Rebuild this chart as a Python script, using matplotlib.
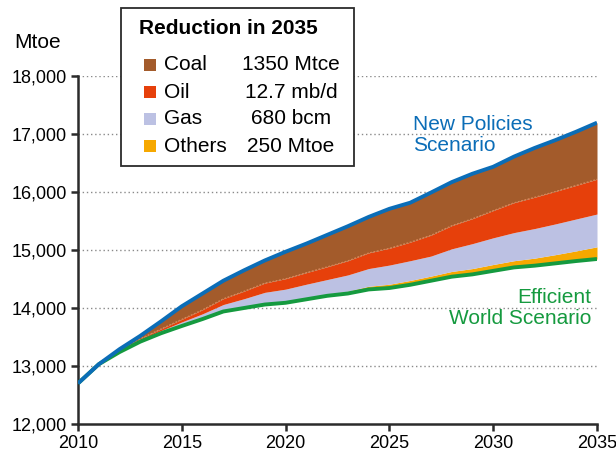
import numpy as np
import matplotlib
matplotlib.use("Agg")
import matplotlib.pyplot as plt
from matplotlib.patches import Rectangle

plt.rcParams["font.family"] = ["Liberation Sans", "DejaVu Sans"]

# ── Données (Mtoe) ───────────────────────────────────────────────────────────
YEARS = list(range(2010, 2036))

NEW_POLICIES = [12700, 13030, 13290, 13520, 13770, 14030, 14250, 14470, 14650, 14820,
                14970, 15110, 15260, 15410, 15570, 15710, 15815, 15990, 16170, 16315,
                16435, 16610, 16760, 16895, 17040, 17195]
EFFICIENT_WORLD = [12700, 13030, 13240, 13420, 13565, 13690, 13810, 13940, 14000, 14060,
                   14090, 14150, 14210, 14250, 14320, 14345, 14400, 14470, 14540, 14580,
                   14640, 14700, 14730, 14770, 14810, 14845]

# réductions empilées au-dessus du scénario Efficient World (coal = le reste)
OTHERS_RED = [0, 0, 5, 10, 10, 15, 15, 20, 20, 25, 25, 30, 30, 40, 55, 65,
              75, 80, 90, 100, 110, 115, 130, 150, 175, 210]
GAS_RED = [0, 0, 10, 20, 35, 55, 75, 100, 140, 185, 210, 230, 250, 280, 305, 330,
           340, 345, 390, 430, 460, 485, 510, 530, 550, 565]
OIL_RED = [0, 0, 10, 20, 30, 45, 70, 100, 130, 160, 180, 200, 220, 245, 270, 290,
           320, 360, 400, 430, 470, 515, 540, 560, 580, 600]

LEGEND_TITLE = "Reduction in 2035"
FUELS = ["Coal", "Oil", "Gas", "Others"]
FUEL_AMOUNTS = ["1350 Mtce", "12.7 mb/d", "680 bcm", "250 Mtoe"]
FUEL_COLORS = {"Coal": "#a35b2b", "Oil": "#e6400b", "Gas": "#bcc1e3", "Others": "#f6a800"}

BLUE = "#0b6db7"
GREEN = "#159a3f"
AXIS_COLOR = "#2b2b2b"

Y_TICKS = list(range(12000, 18001, 1000))
X_TICKS = [2010, 2015, 2020, 2025, 2030, 2035]

# ── Figure ───────────────────────────────────────────────────────────────────
W, H = 616, 458
fig = plt.figure(figsize=(W / 100, H / 100), dpi=100)
ax = fig.add_axes([78 / W, 1 - 424 / H, (597 - 78) / W, (424 - 76) / H])

years = np.array(YEARS)
ews = np.array(EFFICIENT_WORLD, dtype=float)
nps = np.array(NEW_POLICIES, dtype=float)
others = np.array(OTHERS_RED, dtype=float)
gas = np.array(GAS_RED, dtype=float)
oil = np.array(OIL_RED, dtype=float)

b_others = ews + others
b_gas = b_others + gas
b_oil = b_gas + oil

ax.fill_between(years, ews, b_others, color=FUEL_COLORS["Others"], lw=0, zorder=2)
ax.fill_between(years, b_others, b_gas, color=FUEL_COLORS["Gas"], lw=0, zorder=2)
ax.fill_between(years, b_gas, b_oil, color=FUEL_COLORS["Oil"], lw=0, zorder=2)
ax.fill_between(years, b_oil, nps, color=FUEL_COLORS["Coal"], lw=0, zorder=2)
ax.plot(years, b_oil, color="#e08a5a", lw=0.7, ls=(0, (2, 1.5)), zorder=3)

ax.plot(years, ews, color=GREEN, lw=2.8, solid_capstyle="butt", zorder=4)
ax.plot(years, nps, color=BLUE, lw=2.8, solid_capstyle="butt", zorder=5)

for y in Y_TICKS[1:]:
    ax.axhline(y, color="#8a8a8a", lw=1.0, ls=(0, (1, 2)), zorder=1)

ax.set_xlim(2010, 2035)
ax.set_ylim(12000, 18000)
ax.set_xticks(X_TICKS)
ax.set_yticks(Y_TICKS)
ax.set_yticklabels([f"{v:,}" for v in Y_TICKS])
for side in ["top", "right"]:
    ax.spines[side].set_visible(False)
for side in ["left", "bottom"]:
    ax.spines[side].set_color(AXIS_COLOR)
    ax.spines[side].set_linewidth(1.8)
ax.tick_params(direction="out", length=5, width=1.8, color=AXIS_COLOR,
               labelsize=13, labelcolor="black", pad=3)

fig.text(14 / W, 1 - 42 / H, "Mtoe", fontsize=15, ha="left", va="center")

# étiquettes des scénarios
fig.text(413 / W, 1 - 135 / H, "New Policies\nScenario", fontsize=15, color=BLUE,
         ha="left", va="center", linespacing=1.15)
fig.text(591 / W, 1 - 308 / H, "Efficient\nWorld Scenario", fontsize=15, color=GREEN,
         ha="right", va="center", linespacing=1.15, multialignment="right")

# ── Encadré de légende ───────────────────────────────────────────────────────
fig.add_artist(Rectangle((121 / W, 1 - 166 / H), (354 - 121) / W, (166 - 8) / H,
                         transform=fig.transFigure, facecolor="white",
                         edgecolor=AXIS_COLOR, lw=1.3, zorder=10))
fig.text(139 / W, 1 - 28 / H, LEGEND_TITLE, fontsize=15, fontweight="bold",
         ha="left", va="center", zorder=11)
for i, (fuel, amount) in enumerate(zip(FUELS, FUEL_AMOUNTS)):
    yc = 65 + i * 27
    fig.add_artist(Rectangle((144 / W, 1 - (yc + 6) / H), 12 / W, 12 / H,
                             transform=fig.transFigure, facecolor=FUEL_COLORS[fuel],
                             edgecolor="none", zorder=11))
    fig.text(164 / W, 1 - yc / H, fuel, fontsize=15, ha="left", va="center", zorder=11)
    fig.text(291 / W, 1 - yc / H, amount, fontsize=15, ha="center", va="center", zorder=11)

fig.savefig("out.png", dpi=100)
